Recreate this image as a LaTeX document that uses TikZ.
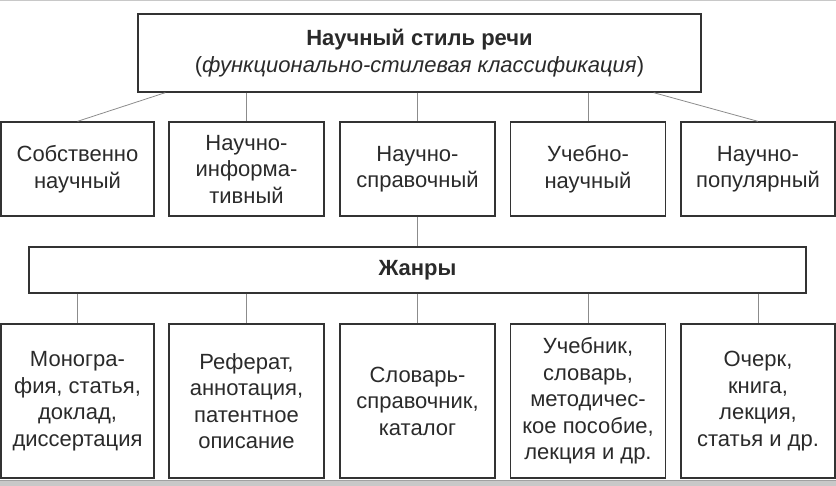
\documentclass[tikz,border=0pt]{standalone}
\usepackage{fontspec}
\setmainfont{Liberation Sans}
\definecolor{boxline}{HTML}{333333}
\definecolor{boxtext}{HTML}{2A2A2A}
\definecolor{linkline}{HTML}{8C8C8C}
\definecolor{edgegray}{HTML}{C8C8C8}
\tikzset{
    stylebox/.style={draw=boxline, line width=1.3pt, align=center, inner sep=0pt,
        text=boxtext, minimum width=155pt, font=\fontsize{22}{26.5}\selectfont},
    kindbox/.style={stylebox, minimum height=94pt},
    genrebox/.style={stylebox, minimum height=154pt},
    link/.style={draw=linkline, line width=0.8pt}
}

\begin{document}
\begin{tikzpicture}[x=1pt, y=-1pt]
    \useasboundingbox (0, 0) rectangle (836, 486);
    \fill[edgegray] (0, 480) rectangle (836, 486);
    \draw[edgegray!80!black, line width=0.8pt] (0, 480) -- (836, 480);
    \draw[edgegray, line width=1pt] (0, 0.5) -- (836, 0.5);

    \node[stylebox, minimum width=563pt, minimum height=78pt] (style) at (419.5, 53)
        {\textbf{Научный стиль речи}\\(\textit{функционально-стилевая классификация})};

    \node[kindbox, minimum width=153pt] (own) at (77.5, 169) {Собственно\\научный};
    \node[kindbox] (inform) at (246.5, 169) {Научно-\\информа-\\тивный};
    \node[kindbox] (refer) at (417.5, 169) {Научно-\\справочный};
    \node[kindbox] (study) at (588, 169) {Учебно-\\научный};
    \node[kindbox, minimum width=154pt] (popular) at (758, 169) {Научно-\\популярный};

    \node[stylebox, minimum width=777pt, minimum height=46pt] (genres) at (417.5, 270) {\textbf{Жанры}};

    \node[genrebox, minimum width=153pt] (mono) at (77.5, 401) {Моногра-\\фия, статья,\\доклад,\\диссертация};
    \node[genrebox] (abstract) at (246.5, 401) {Реферат,\\аннотация,\\патентное\\описание};
    \node[genrebox] (dict) at (417.5, 401) {Словарь-\\справочник,\\каталог};
    \node[genrebox] (textbook) at (588, 401) {Учебник,\\словарь,\\методичес-\\кое пособие,\\лекция и др.};
    \node[genrebox, minimum width=154pt] (essay) at (758, 401) {Очерк,\\книга,\\лекция,\\статья и др.};

    \coordinate (leftfoot) at ([xshift=28pt]style.south west);
    \coordinate (rightfoot) at ([xshift=-48pt]style.south east);

    \draw[link] (leftfoot) -- (own.north);
    \draw[link] (inform.north |- style.south) -- (inform.north);
    \draw[link] (refer.north |- style.south) -- (refer.north);
    \draw[link] (study.north |- style.south) -- (study.north);
    \draw[link] (rightfoot) -- (popular.north);
    \draw[link] (refer.south) -- (refer.south |- genres.north);

    \draw[link] (mono.north |- genres.south) -- (mono.north);
    \draw[link] (abstract.north |- genres.south) -- (abstract.north);
    \draw[link] (dict.north |- genres.south) -- (dict.north);
    \draw[link] (textbook.north |- genres.south) -- (textbook.north);
    \draw[link] (essay.north |- genres.south) -- (essay.north);
\end{tikzpicture}
\end{document}
